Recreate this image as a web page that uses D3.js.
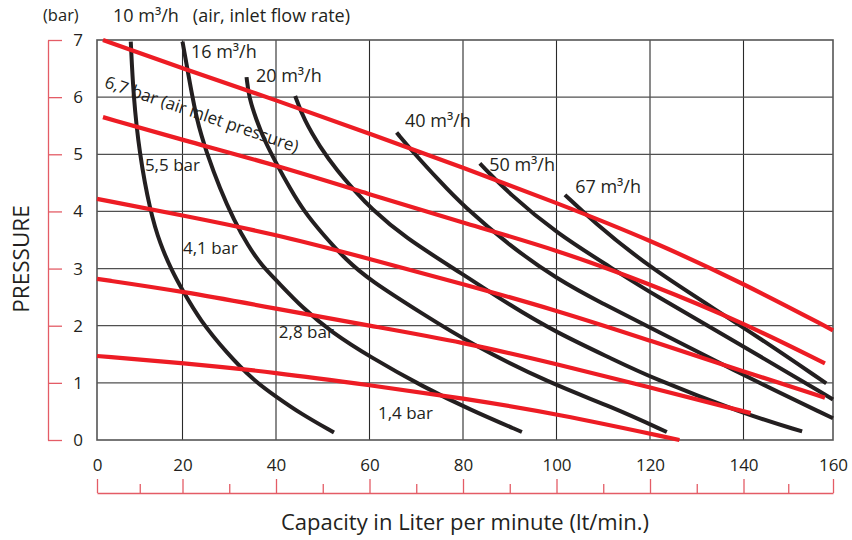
<!DOCTYPE html>
<html>
<head>
<meta charset="utf-8">
<script src="https://cdn.jsdelivr.net/npm/d3@7"></script>
<style>
  html, body { margin: 0; padding: 0; background: #fff; }
  svg { display: block; font-family: "Open Sans", sans-serif; }
</style>
</head>
<body>
<svg id="chart" width="852" height="540"></svg>
<script>
// ---------- data ----------
const xTicks = [0, 20, 40, 60, 80, 100, 120, 140, 160];
const xMinorTicks = [10, 30, 50, 70, 90, 110, 130, 150];
const yTicks = [0, 1, 2, 3, 4, 5, 6, 7];

// air inlet pressure lines (red): [capacity l/min, pressure bar]
const pressureNames = ["6,7 bar (air inlet pressure)", "5,5 bar", "4,1 bar", "2,8 bar", "1,4 bar"];
const p67 = [[1.4,7.0],[20,6.5],[40,5.95],[60,5.36],[80,4.77],[100,4.15],[120,3.5],[140,2.74],[160,1.92]];
const p55 = [[1.4,5.65],[20,5.25],[40,4.81],[60,4.3],[80,3.8],[100,3.33],[120,2.73],[140,2.05],[158.2,1.34]];
const p41 = [[0,4.22],[20,3.93],[40,3.6],[60,3.17],[80,2.73],[100,2.27],[120,1.74],[140,1.2],[158.2,0.74]];
const p28 = [[0,2.82],[20,2.6],[40,2.3],[60,2.0],[80,1.71],[100,1.33],[120,0.92],[141.6,0.47]];
const p14 = [[0,1.47],[20,1.35],[40,1.18],[60,0.96],[80,0.73],[100,0.46],[126.3,0]];

// air inlet flow rate curves (black)
const flowNames = ["10 m³/h", "16 m³/h", "20 m³/h", "", "40 m³/h", "50 m³/h", "67 m³/h"];
const f10 = [[7.9,6.97],[8.5,6.03],[9.9,5.02],[12.4,4.01],[14.8,3.42],[17.6,2.95],[20,2.62],[23.7,2.1],[29.5,1.52],[35.1,1.05],[40,0.76],[45.1,0.47],[52.4,0.13]];
const f16 = [[20,6.97],[21.2,6.42],[23,5.6],[25.2,5.02],[28,4.4],[31,3.85],[34,3.4],[37,3.05],[40,2.8],[45.8,2.3],[52,1.88],[60,1.46],[71.5,0.93],[81.5,0.53],[92.6,0.14]];
const f20 = [[33.7,6.35],[34.2,6.0],[35.8,5.6],[37.5,5.25],[40,4.85],[43,4.4],[46,4.0],[50,3.6],[55,3.15],[60,2.8],[71.5,2.2],[81.5,1.69],[98.6,0.99],[111.9,0.58],[123.6,0.14]];
const f30 = [[44.1,6.02],[46,5.6],[49.4,5.13],[53,4.72],[57.3,4.32],[60,4.08],[67.2,3.56],[80,2.9],[90,2.36],[100,1.88],[111.9,1.42],[120,1.1],[140,0.46],[153.1,0.15]];
const f40 = [[65.8,5.38],[69.4,5.03],[75,4.53],[80,4.1],[90,3.4],[100,2.82],[110,2.38],[120,1.97],[140,1.13],[160,0.38]];
const f50 = [[83.6,4.84],[90,4.3],[100,3.62],[112,3.0],[120,2.58],[140,1.64],[160,0.71]];
const f67 = [[101.8,4.29],[107.5,3.85],[120,3.0],[140,1.98],[158.5,0.99]];

const yUnit = "(bar)";
const flowTitle = "(air, inlet flow rate)";
const yTitle = "PRESSURE";
const xTitle = "Capacity in Liter per minute (lt/min.)";

// ---------- drawing ----------
const svg = d3.select("#chart");
const INK = "#231f20";
const RED = "#ed1c24";
const AXRED = "#e45c66";
const GRID = "#505050";

const x = d3.scaleLinear().domain([0, 20, 140, 160]).range([97, 182.5, 743.5, 833]);
const y = d3.scaleLinear().domain([0, 7]).range([440, 40]);

// grid
const grid = svg.append("g");
grid.selectAll("line.v").data(xTicks.slice(1, -1)).join("line")
  .attr("x1", d => x(d)).attr("x2", d => x(d))
  .attr("y1", y(7)).attr("y2", y(0))
  .attr("stroke", "#2a2a2a").attr("stroke-width", 1.1);
grid.selectAll("line.h").data(yTicks.slice(1, -1)).join("line")
  .attr("x1", x(0)).attr("x2", x(160))
  .attr("y1", d => y(d)).attr("y2", d => y(d))
  .attr("stroke", GRID).attr("stroke-width", 1.3);
grid.append("rect")
  .attr("x", x(0)).attr("y", y(7))
  .attr("width", x(160) - x(0)).attr("height", y(0) - y(7))
  .attr("fill", "none").attr("stroke", "#555").attr("stroke-width", 1.6);

// curves
const line = d3.line().x(d => x(d[0])).y(d => y(d[1])).curve(d3.curveBasis);

const flows = [f10, f16, f20, f30, f40, f50, f67];
svg.append("g").selectAll("path").data(flows).join("path")
  .attr("d", line).attr("fill", "none")
  .attr("stroke", INK).attr("stroke-width", 4);

const pressures = [p67, p55, p41, p28, p14];
svg.append("g").selectAll("path").data(pressures).join("path")
  .attr("d", line).attr("fill", "none")
  .attr("stroke", RED).attr("stroke-width", 4.2);

// y axis (red, on the left)
const yAxis = d3.axisRight(y).tickValues(yTicks).tickSize(14).tickSizeOuter(0).tickFormat(d3.format("d"));
const gy = svg.append("g").attr("transform", "translate(48,0)").call(yAxis);
gy.select(".domain").attr("stroke", AXRED).attr("stroke-width", 1.3);
gy.selectAll(".tick line").attr("stroke", AXRED).attr("stroke-width", 1.3);
gy.selectAll(".tick text")
  .attr("x", 30).attr("text-anchor", "middle")
  .attr("fill", INK).style("font-family", "Open Sans").style("font-size", "17px");

// x axis (red, below)
const xAxis = d3.axisTop(x).tickValues(xTicks).tickSize(14).tickSizeOuter(0).tickPadding(8).tickFormat(d3.format("d"));
const gx = svg.append("g").attr("transform", "translate(0,493)").call(xAxis);
gx.select(".domain").attr("stroke", AXRED).attr("stroke-width", 1.3);
gx.selectAll(".tick line").attr("stroke", AXRED).attr("stroke-width", 1.3);
gx.selectAll(".tick text").attr("fill", INK).style("font-family", "Open Sans").style("font-size", "17px");
const xMinor = d3.axisTop(x).tickValues(xMinorTicks).tickSize(9).tickSizeOuter(0).tickFormat("");
const gxm = svg.append("g").attr("transform", "translate(0,493)").call(xMinor);
gxm.select(".domain").remove();
gxm.selectAll(".tick line").attr("stroke", AXRED).attr("stroke-width", 1.3);

// titles
const txt = svg.append("g").attr("fill", INK).style("font-family", "Open Sans");
txt.append("text").attr("x", 43).attr("y", 21).style("font-size", "16.5px").text(yUnit);
txt.append("text").attr("x", 113).attr("y", 22).style("font-size", "18px")
  .attr("xml:space", "preserve").text(flowNames[0] + "   " + flowTitle);
txt.append("text").attr("transform", "translate(29,259) rotate(-90)")
  .attr("text-anchor", "middle").style("font-size", "22.5px").text(yTitle);
txt.append("text").attr("x", 465).attr("y", 530).attr("text-anchor", "middle")
  .style("font-size", "22px").text(xTitle);

// in-plot labels (anchored in data units)
const flowLabelPos = [null, [21.8, 6.685], [35.7, 6.265], null, [67.6, 5.478], [85.6, 4.708], [104.0, 4.323]];
flowNames.forEach((name, i) => {
  const p = flowLabelPos[i];
  if (!p || !name) return;
  txt.append("text").attr("x", x(p[0])).attr("y", y(p[1])).style("font-size", "18px").text(name);
});
const pressLabelPos = [[1.52, 6.178], [11.2, 4.708], [20.1, 3.255], [40.6, 1.785], [61.8, 0.3675]];
pressureNames.forEach((name, i) => {
  const p = pressLabelPos[i];
  const t = txt.append("text").style("font-size", "17px").text(name);
  if (i === 0) t.attr("transform", `translate(${x(p[0])},${y(p[1])}) rotate(18.8)`);
  else t.attr("x", x(p[0])).attr("y", y(p[1]));
});
</script>
</body>
</html>
